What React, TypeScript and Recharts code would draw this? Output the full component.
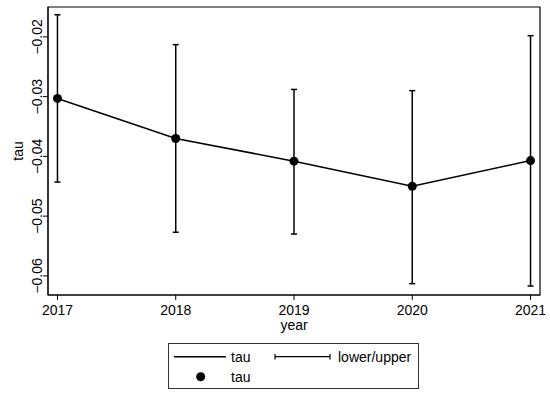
import React from 'react';
import { ComposedChart, Line, XAxis, YAxis, ErrorBar, ReferenceArea } from 'recharts';

// values
const years = [2017, 2018, 2019, 2020, 2021];
const tau = [-0.0303, -0.037, -0.0408, -0.045, -0.0407];
const lower = [-0.0443, -0.0527, -0.053, -0.0613, -0.0617];
const upper = [-0.0163, -0.0213, -0.0288, -0.029, -0.0198];
const yTicks = [-0.06, -0.05, -0.04, -0.03, -0.02];

const xDomain = [2016.92, 2021.08];
const yDomain = [-0.0632, -0.015];

const data = years.map((year, i) => ({
  year,
  tau: tau[i],
  err: [tau[i] - lower[i], upper[i] - tau[i]],
}));

const FONT = '"Liberation Sans", Arial, sans-serif';
const FS = 14;
const fmt = (v: number) => v.toFixed(2).replace('-', '\u2212');

const YTick = ({ x, y, payload }: any) => (
  <text
    x={x + 1.5}
    y={y}
    transform={`rotate(-90, ${x + 1.5}, ${y})`}
    textAnchor="middle"
    fontSize={FS}
    fill="#000"
    fontFamily={FONT}
  >
    {fmt(payload.value)}
  </text>
);

const XTick = ({ x, y, payload }: any) => (
  <text x={x} y={y + 13} textAnchor="middle" fontSize={FS} fill="#000" fontFamily={FONT}>
    {payload.value}
  </text>
);

export default function App() {
  return (
    <div style={{ position: 'absolute', left: 0, top: 0, width: 550, height: 396, background: '#fff', fontFamily: FONT }}>
      <ComposedChart width={550} height={396} data={data} margin={{ top: 7, right: 10, left: 8, bottom: 61 }}>
        <XAxis
          type="number"
          dataKey="year"
          domain={xDomain}
          ticks={years}
          allowDataOverflow
          height={40}
          tickSize={5}
          tick={<XTick />}
          stroke="#000"
          label={{
            content: ({ viewBox }: any) => (
              <text x={viewBox.x + viewBox.width / 2} y={viewBox.y + 35} textAnchor="middle" fontSize={FS} fill="#000" fontFamily={FONT}>
                year
              </text>
            ),
          }}
        />
        <YAxis
          type="number"
          domain={yDomain}
          ticks={yTicks}
          allowDataOverflow
          width={40}
          tickSize={5}
          tick={<YTick />}
          stroke="#000"
          label={{
            content: ({ viewBox }: any) => {
              const cx = viewBox.x + 14.5;
              const cy = viewBox.y + viewBox.height / 2;
              return (
                <text x={cx} y={cy} transform={`rotate(-90, ${cx}, ${cy})`} textAnchor="middle" fontSize={FS} fill="#000" fontFamily={FONT}>
                  tau
                </text>
              );
            },
          }}
        />
        <ReferenceArea x1={xDomain[0]} x2={xDomain[1]} y1={yDomain[0]} y2={yDomain[1]} fill="none" stroke="#000" strokeWidth={1.2} />
        <Line
          dataKey="tau"
          stroke="#000"
          strokeWidth={1.5}
          isAnimationActive={false}
          dot={{ r: 4.5, fill: '#000', stroke: '#000', strokeWidth: 0 }}
          activeDot={false}
        >
          <ErrorBar dataKey="err" width={3} stroke="#000" strokeWidth={1.5} isAnimationActive={false} />
        </Line>
      </ComposedChart>

      <div style={{ position: 'absolute', left: 168, top: 343, width: 251, height: 46, border: '1px solid #333', boxSizing: 'border-box' }}>
        <svg width={251} height={46} style={{ position: 'absolute', left: -1, top: -1 }}>
          <line x1={6} y1={13.7} x2={58} y2={13.7} stroke="#000" strokeWidth={1.5} />
          <text x={63} y={18.7} fontSize={FS} fontFamily={FONT}>tau</text>
          <line x1={107} y1={13.7} x2={162} y2={13.7} stroke="#000" strokeWidth={1.2} />
          <line x1={107} y1={11} x2={107} y2={16.5} stroke="#000" strokeWidth={1.2} />
          <line x1={162} y1={11} x2={162} y2={16.5} stroke="#000" strokeWidth={1.2} />
          <text x={170} y={18.7} fontSize={FS} fontFamily={FONT}>lower/upper</text>
          <circle cx={32.7} cy={33.7} r={4.5} fill="#000" />
          <text x={63} y={38.7} fontSize={FS} fontFamily={FONT}>tau</text>
        </svg>
      </div>
    </div>
  );
}
